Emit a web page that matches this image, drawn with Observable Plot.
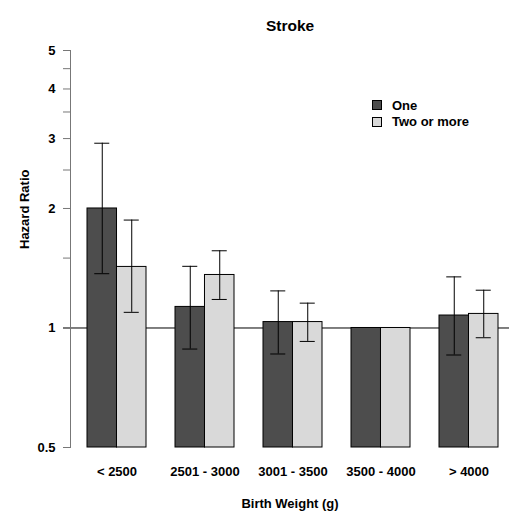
<!DOCTYPE html>
<html>
<head>
<meta charset="utf-8">
<script src="https://cdn.jsdelivr.net/npm/d3@7"></script>
<script src="https://cdn.jsdelivr.net/npm/@observablehq/plot@0.6"></script>
<style>
  html, body { margin: 0; padding: 0; background: #fff; }
  #wrap { position: relative; width: 509px; height: 512px; font-family: "Liberation Sans", Arial, sans-serif; }
  #legend { position: absolute; left: 372px; top: 97px; font-weight: bold; font-size: 13px; color: #000; }
  #legend .row { display: flex; align-items: center; height: 16.5px; }
  #legend .sw { width: 10px; height: 10px; border: 1px solid #000; box-sizing: border-box; margin-right: 10px; }
</style>
</head>
<body>
<div id="wrap"><div id="legend"></div></div>
<script>
const categories = ["< 2500", "2501 - 3000", "3001 - 3500", "3500 - 4000", "> 4000"];
const series = ["One", "Two or more"];
const hrOne = [2.0, 1.13, 1.035, 1.0, 1.075];
const loOne = [1.37, 0.885, 0.86, null, 0.855];
const hiOne = [2.92, 1.43, 1.24, null, 1.345];
const hrTwo = [1.425, 1.36, 1.035, 1.0, 1.085];
const loTwo = [1.095, 1.18, 0.925, null, 0.945];
const hiTwo = [1.87, 1.565, 1.155, null, 1.245];
const yTicks = [0.5, 1, 2, 3, 4, 5];
const yMinorTicks = [1.5, 2.5, 3.5, 4.5];
const colors = ["#4d4d4d", "#d9d9d9"];

const rows = [];
categories.forEach((c, i) => {
  rows.push({cat: c, s: 0, hr: hrOne[i], lo: loOne[i], hi: hiOne[i]});
  rows.push({cat: c, s: 1, hr: hrTwo[i], lo: loTwo[i], hi: hiTwo[i]});
});
const errRows = rows.filter(d => d.lo != null);

const xRange = [87, 498];
const padInner = 0.33;
const step = (xRange[1] - xRange[0]) / (categories.length - padInner);
const bw = step * (1 - padInner);
const half = bw / 2;
const capHalf = 7.5;

const marks = [];
series.forEach((s, k) => {
  const r = rows.filter(d => d.s === k);
  const e = errRows.filter(d => d.s === k);
  marks.push(Plot.barY(r, {
    x: "cat", y1: () => 0.5, y2: "hr", fill: colors[k], stroke: "#000", strokeWidth: 1,
    insetLeft: k === 0 ? 0 : half, insetRight: k === 0 ? half : 0
  }));
  const dx = k === 0 ? -bw / 4 : bw / 4;
  marks.push(Plot.ruleX(e, {x: "cat", y1: "lo", y2: "hi", dx, stroke: "#000", strokeWidth: 1}));
  const capL = (k === 0 ? bw / 4 : 3 * bw / 4) - capHalf;
  const capR = bw - (k === 0 ? bw / 4 : 3 * bw / 4) - capHalf;
  marks.push(Plot.tickY(e, {x: "cat", y: "lo", insetLeft: capL, insetRight: capR, stroke: "#000", strokeWidth: 1}));
  marks.push(Plot.tickY(e, {x: "cat", y: "hi", insetLeft: capL, insetRight: capR, stroke: "#000", strokeWidth: 1}));
});

const chart = Plot.plot({
  width: 509,
  height: 512,
  marginLeft: 70,
  marginRight: 0,
  marginTop: 50,
  marginBottom: 65,
  style: {fontFamily: "'Liberation Sans', Arial, sans-serif", fontSize: "13px", fontWeight: "bold", background: "#fff", color: "#000"},
  x: {domain: categories, range: xRange, paddingInner: padInner, paddingOuter: 0, axis: null},
  y: {type: "log", domain: [0.5, 5], axis: null},
  marks: [
    Plot.ruleY([1], {stroke: "#000", strokeWidth: 1, insetLeft: -7}),
    ...marks,
    Plot.frame({anchor: "left", stroke: "#777"}),
    Plot.axisY(yMinorTicks, {anchor: "left", tickSize: 7, stroke: "#777", tickFormat: null, text: null, label: null}),
    Plot.axisY(yTicks, {anchor: "left", tickSize: 7, tickPadding: 8, stroke: "#777", fill: "#000",
      tickFormat: d => String(d), label: null, fontWeight: "bold", fontSize: 13}),
    Plot.text(["Hazard Ratio"], {frameAnchor: "left", text: d => d, rotate: -90, dx: -46, fontSize: 13, fontWeight: "bold"}),
    Plot.axisX({anchor: "bottom", tickSize: 0, tickPadding: 19, fontWeight: "bold", fontSize: 13,
      label: "Birth Weight (g)", labelAnchor: "center", labelOffset: 60}),
    Plot.text(["Stroke"], {frameAnchor: "top", text: d => d, dy: -31, fontSize: 15.5, fontWeight: "bold"})
  ]
});

const wrap = document.getElementById("wrap");
wrap.insertBefore(chart, wrap.firstChild);

const legend = document.getElementById("legend");
series.forEach((s, k) => {
  const row = document.createElement("div");
  row.className = "row";
  const sw = document.createElement("div");
  sw.className = "sw";
  sw.style.background = colors[k];
  const t = document.createElement("span");
  t.textContent = s;
  row.appendChild(sw);
  row.appendChild(t);
  legend.appendChild(row);
});
</script>
</body>
</html>
